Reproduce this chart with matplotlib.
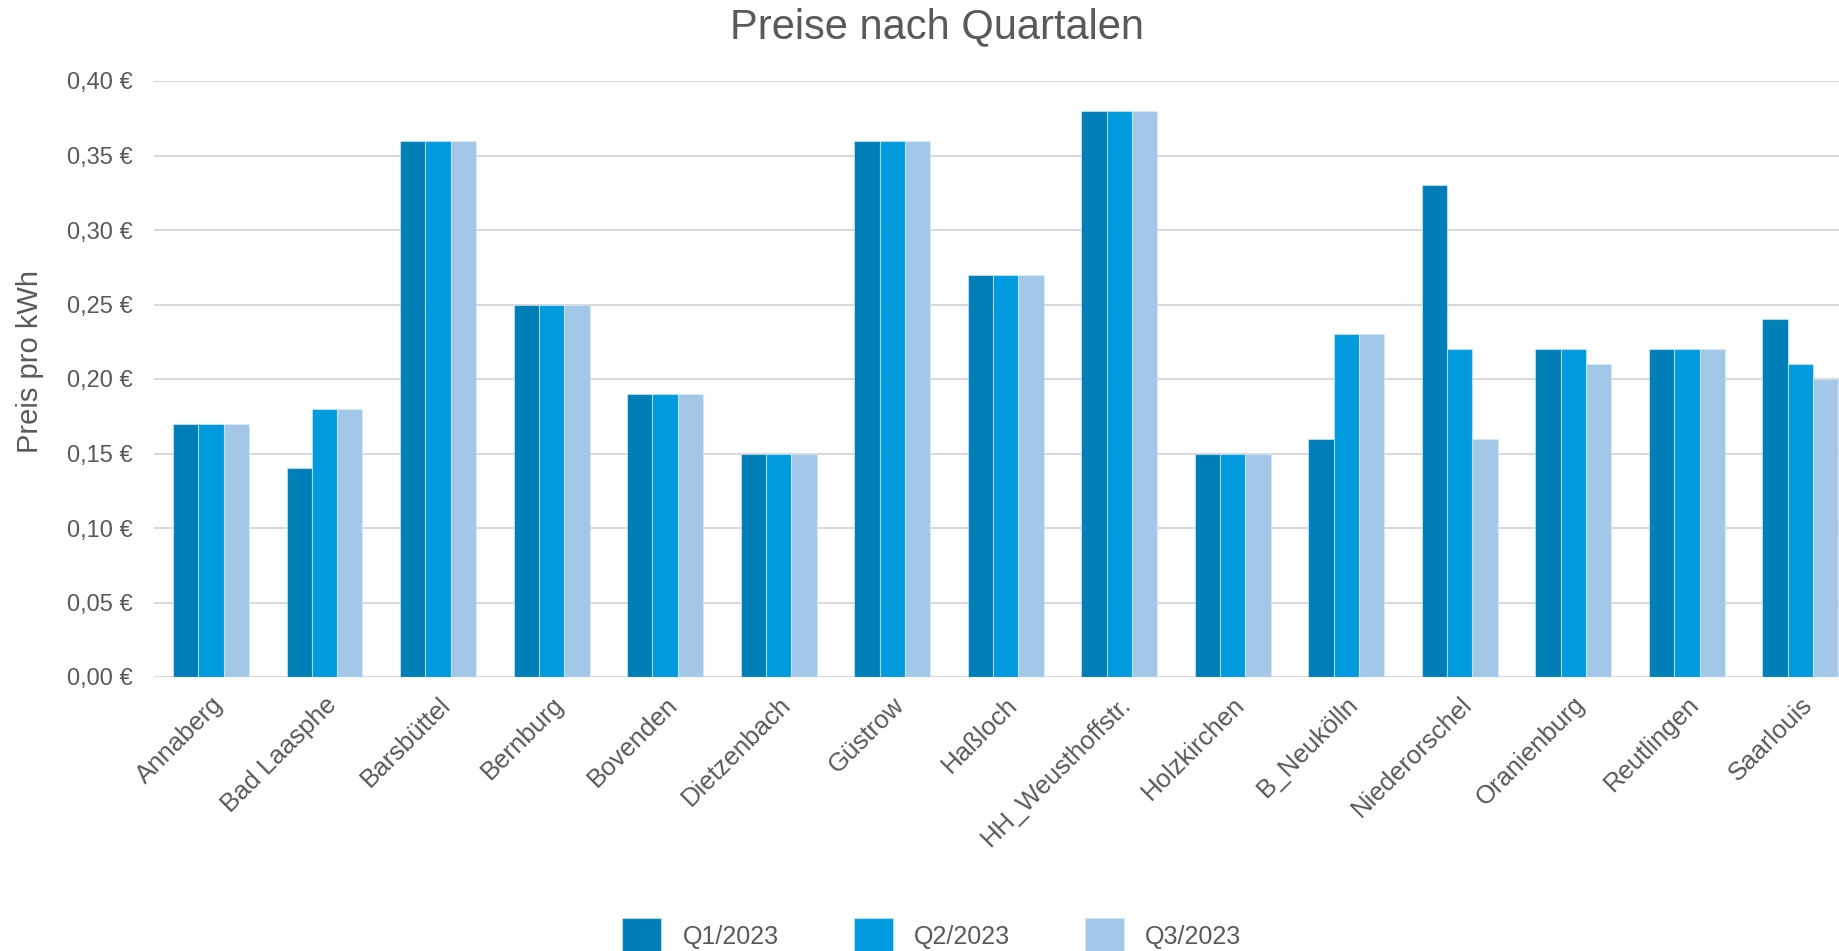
#!/usr/bin/env python3

import matplotlib
matplotlib.use("Agg")
import matplotlib.pyplot as plt
import numpy as np
from matplotlib.ticker import FuncFormatter


# data
standorte = ["Annaberg", "Bad Laasphe", "Barsbüttel", "Bernburg", "Bovenden",
             "Dietzenbach", "Güstrow", "Haßloch", "HH_Weusthoffstr.", "Holzkirchen",
             "B_Neukölln", "Niederorschel", "Oranienburg", "Reutlingen", "Saarlouis"]
q1 = [0.17, 0.14, 0.36, 0.25, 0.19, 0.15, 0.36, 0.27, 0.38, 0.15, 0.16, 0.33, 0.22, 0.22, 0.24]
q2 = [0.17, 0.18, 0.36, 0.25, 0.19, 0.15, 0.36, 0.27, 0.38, 0.15, 0.23, 0.22, 0.22, 0.22, 0.21]
q3 = [0.17, 0.18, 0.36, 0.25, 0.19, 0.15, 0.36, 0.27, 0.38, 0.15, 0.23, 0.16, 0.21, 0.22, 0.20]
quartale = ["Q1/2023", "Q2/2023", "Q3/2023"]
farben = ["#007EB8", "#009BDE", "#A2C7E9"]

yticks = [0.0, 0.05, 0.10, 0.15, 0.20, 0.25, 0.30, 0.35, 0.40]

textfarbe = "#595959"


def main():

    plt.rcParams['font.family'] = ['Liberation Sans', 'DejaVu Sans']

    W, H = 1839, 951
    fig = plt.figure(figsize=(W / 100, H / 100), dpi=100)

    # axes: left edge at grid start, runs off the right edge like the original
    left = 154 / W
    bottom = 1 - 677 / H
    top = 1 - 81 / H
    ax = fig.add_axes([left, bottom, 1.0 - left, top - bottom])

    x = np.arange(len(standorte))
    breite = 0.223
    serien = [q1, q2, q3]
    for i, werte in enumerate(serien):
        ax.bar(x + (i - 1) * breite, werte, breite, color=farben[i],
               edgecolor=(0.85, 0.93, 0.98, 0.6), linewidth=0.8, label=quartale[i], zorder=3)

    ax.set_xlim(-0.502, 14.34)
    ax.set_ylim(0, 0.40)
    ax.set_yticks(yticks)
    ax.yaxis.set_major_formatter(FuncFormatter(lambda v, p: f"{v:.2f} €".replace(".", ",")))
    ax.grid(axis='y', color='#D9D9D9', linewidth=1.5, zorder=0)
    ax.set_axisbelow(True)
    for s in ax.spines.values():
        s.set_visible(False)

    ax.tick_params(axis='y', length=0, pad=15, labelsize=17, labelcolor=textfarbe)
    ax.tick_params(axis='x', length=0, pad=11, labelcolor=textfarbe)
    ax.set_xticks(x)
    ax.set_xticklabels(standorte, rotation=45, ha='right', va='top',
                       rotation_mode='anchor', fontsize=18.5)

    # title and y label
    fig.text(937 / W, 1 - 38 / H, "Preise nach Quartalen", ha='center', va='baseline',
             fontsize=30, color=textfarbe)
    fig.text(30 / W, 1 - 361 / H, "Preis pro kWh", rotation=90, ha='center', va='center',
             fontsize=21, color=textfarbe)

    # legend at the bottom, partly cut off like the original
    fig.legend(loc='center', bbox_to_anchor=(932 / W, 1 - 936 / H), ncol=3,
               frameon=False, fontsize=18, labelcolor=textfarbe,
               handlelength=1.56, handleheight=1.9, handletextpad=0.85,
               columnspacing=3.0, borderpad=0)

    fig.savefig("out.png", dpi=100)


if __name__ == "__main__":
    main()
